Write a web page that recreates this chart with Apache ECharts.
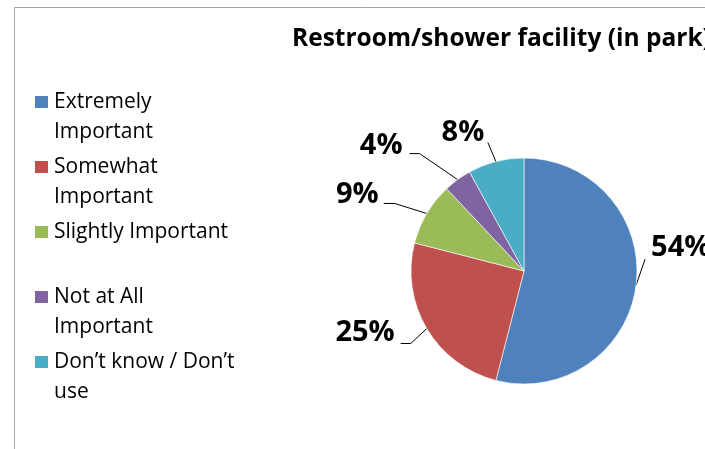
<!DOCTYPE html>
<html>
<head>
<meta charset="utf-8">
<script src="https://cdn.jsdelivr.net/npm/echarts@6/dist/echarts.min.js"></script>
<style>
  html, body { margin: 0; padding: 0; background: #fff; }
  #chart { width: 705px; height: 449px; }
</style>
</head>
<body>
<div id="chart"></div>
<script>
// data
const categories = ["Extremely Important", "Somewhat Important", "Slightly Important", "Not at All Important", "Don\u2019t know / Don\u2019t use"];
const legendText = ["Extremely\nImportant", "Somewhat\nImportant", "Slightly Important\n", "Not at All\nImportant", "Don\u2019t know / Don\u2019t\nuse"];
const values = [54, 25, 9, 4, 8];
const colors = ["#4F81BD", "#C0504D", "#9BBB59", "#8064A2", "#4BACC6"];

// where each label sits relative to the middle of its arc (Excel-like leader lines)
const labelPlace = [
  { line: [[9, -26]], at: [15, -37], align: "left" },
  { line: [[-16, 15], [-26, 15]], at: [-32, 4], align: "right" },
  { line: [[-32, -10], [-43, -10]], at: [-48, -19], align: "right" },
  { line: [[-38, -26], [-48, -26]], at: [-55, -34], align: "right" },
  { line: [[-8, -19]], at: [-33, -29], align: "center" }
];

const font = "'Open Sans', sans-serif";
const chart = echarts.init(document.getElementById("chart"), null, { renderer: "canvas" });

chart.setOption({
  animation: false,
  color: colors,
  title: {
    text: "Restroom/shower facility (in park)",
    left: 292,
    top: 27,
    padding: 0,
    textStyle: { fontFamily: font, fontSize: 24.5, fontWeight: "bold", color: "#000" }
  },
  legend: {
    orient: "vertical",
    left: 33,
    top: 57,
    padding: 0,
    itemGap: -25,
    itemWidth: 15,
    itemHeight: 14,
    icon: "rect",
    selectedMode: false,
    data: categories,
    formatter: function (name) {
      return "\n" + legendText[categories.indexOf(name)];
    },
    textStyle: { fontFamily: font, fontSize: 21, lineHeight: 30, color: "#000" }
  },
  graphic: [{
    type: "rect",
    shape: { x: 14.5, y: 7.5, width: 720, height: 460 },
    style: { fill: "none", stroke: "#a6a6a6", lineWidth: 1 },
    silent: true
  }],
  series: [{
    type: "pie",
    center: [524, 271],
    radius: 113,
    startAngle: 90,
    clockwise: true,
    avoidLabelOverlap: false,
    itemStyle: { borderColor: "#fff", borderWidth: 0.6 },
    label: {
      show: true,
      position: "outside",
      formatter: "{c}%",
      fontFamily: font,
      fontSize: 29,
      fontWeight: "bold",
      color: "#000"
    },
    labelLine: { show: true, length: 10, length2: 8, lineStyle: { color: "#000", width: 1 } },
    labelLayout: function (p) {
      const s = p.labelLinePoints[0];
      const pl = labelPlace[p.dataIndex];
      const pts = [[s[0], s[1]]];
      pl.line.forEach(function (d) { pts.push([s[0] + d[0], s[1] + d[1]]); });
      return {
        x: s[0] + pl.at[0],
        y: s[1] + pl.at[1],
        align: pl.align,
        verticalAlign: "middle",
        labelLinePoints: pts
      };
    },
    data: categories.map(function (c, i) { return { name: c, value: values[i] }; })
  }]
});
</script>
</body>
</html>
